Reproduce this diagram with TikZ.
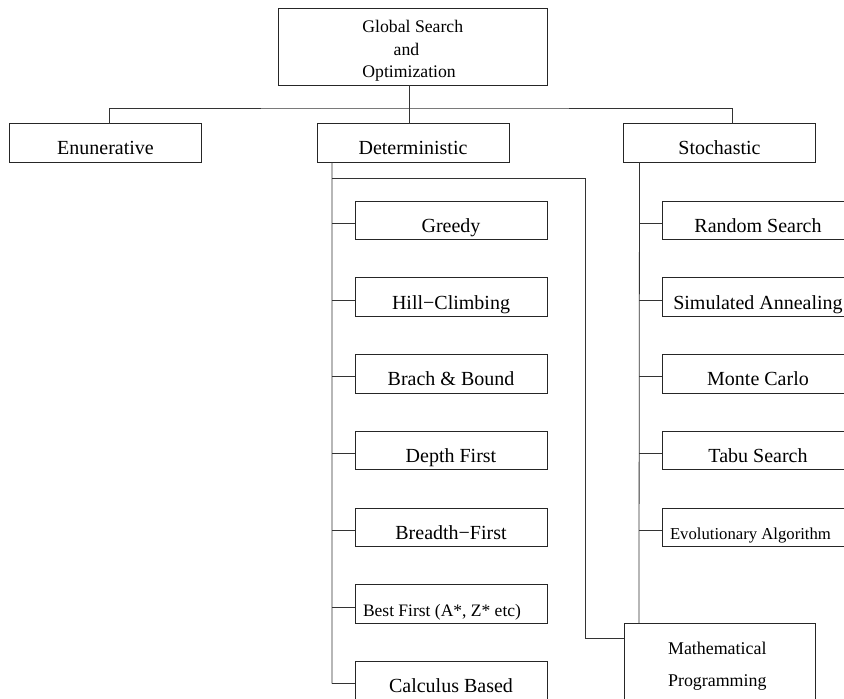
\documentclass[tikz,border=0pt]{standalone}
\usepackage{fontspec}
\setmainfont{Liberation Serif}
\newcommand{\flushtext}[1]{\makebox[176bp][l]{#1}}
\begin{document}
\begin{tikzpicture}[x=1bp,y=-1bp,
  every node/.style={inner sep=0pt, outer sep=0pt},
  frame/.style={draw=black!85, line width=0.9bp},
  box/.style={frame, minimum width=192bp, minimum height=38.5bp,
    text height=24bp, text depth=0pt, font=\fontsize{20bp}{24bp}\selectfont},
  link/.style={draw=black!80, line width=0.8bp},
]
\useasboundingbox (0,0) rectangle (844,699);

% root
\node[frame, minimum width=269bp, minimum height=76.5bp,
  label={[name=toptext, anchor=north, yshift=-11.5bp, align=left,
    font=\fontsize{17.7bp}{22.5bp}\selectfont]north:{Global Search\\\hspace*{31.3bp}and\\Optimization}}]
  (top) at (412.8,47.2) {};

% first level
\node[box] (enu) at (105.5,142.8) {Enunerative};
\node[box] (det) at (413,142.8) {Deterministic};
\node[box] (sto) at (719.5,142.8) {Stochastic};

% deterministic methods
\node[box] (greedy)  at (451,220.2) {Greedy};
\node[box] (hill)    at (451,297.0) {Hill−Climbing};
\node[box] (brach)   at (451,373.7) {Brach \& Bound};
\node[box] (depth)   at (451,450.5) {Depth First};
\node[box] (breadth) at (451,527.2) {Breadth−First};
\node[box, font=\fontsize{17.5bp}{21bp}\selectfont] (best) at (451,604.0)
  {\flushtext{Best First (A*, Z* etc)}};
\node[box] (calc)    at (451,680.7) {Calculus Based};

% stochastic methods
\node[box] (rand)  at (758,220.2) {Random Search};
\node[box] (sim)   at (758,297.0) {Simulated Annealing};
\node[box] (monte) at (758,373.7) {Monte Carlo};
\node[box] (tabu)  at (758,450.5) {Tabu Search};
\node[box, font=\fontsize{16.7bp}{20bp}\selectfont] (evo) at (758,527.2)
  {\flushtext{Evolutionary Algorithm}};

% mathematical programming
\node[frame, minimum width=191.7bp, minimum height=82bp,
  label={[name=mathtext, anchor=north, yshift=-19bp, xshift=-2.5bp, align=left,
    font=\fontsize{17.9bp}{31.7bp}\selectfont]north:{Mathematical\\Programming}}]
  (math) at (719.8,664.3) {};

% root bus
\coordinate (bus) at (409,108);
\draw[link] (top.south -| bus) -- (bus |- det.north);
\draw[link] ([xshift=3.5bp]enu.north) |- (bus) -| ([xshift=12.5bp]sto.north);

% deterministic trunk and branches
\draw[link] ([xshift=15bp]det.south west) -- ([xshift=-23bp,yshift=-3bp]calc.west);
\foreach \n in {greedy,hill,brach,depth,breadth,best,calc}
  \draw[link] ([yshift=-3bp]\n.west) -- ++(-23bp,0);

% route to mathematical programming
\coordinate (mx) at (585,0);
\coordinate (mj) at ([yshift=-15bp]math.north west);
\draw[link] ([xshift=15bp,yshift=-16bp]det.south west) -| (mx |- mj) -- (mj);

% stochastic trunk and branches
\draw[link] ([xshift=16bp]sto.south west) -- ([xshift=15bp]math.north west);
\foreach \n in {rand,sim,monte,tabu,evo}
  \draw[link] ([yshift=-3bp]\n.west) -- ++(-23bp,0);
\end{tikzpicture}
\end{document}
